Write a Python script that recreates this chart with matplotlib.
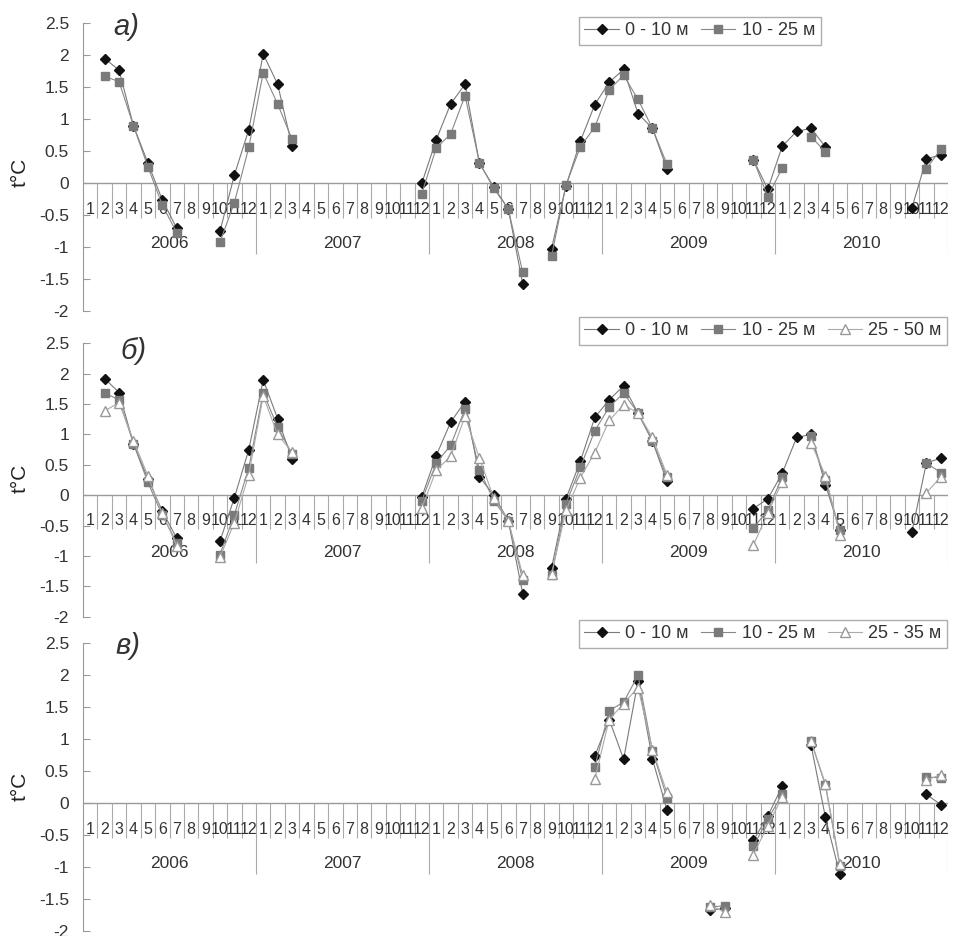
import numpy as np
import matplotlib.pyplot as plt

plt.rcParams['font.family'] = ['Liberation Sans', 'DejaVu Sans']

n = None
years = ['2006', '2007', '2008', '2009', '2010']
months = [str(m) for m in range(1, 13)] * 5
yticks = [-2, -1.5, -1, -0.5, 0, 0.5, 1, 1.5, 2, 2.5]
ylabels = ['-2', '-1.5', '-1', '-0.5', '0', '0.5', '1', '1.5', '2', '2.5']

# panel a
a_0_10 = [n, 1.94, 1.76, 0.89, 0.31, -0.27, -0.71, n, n, -0.76, 0.12, 0.83,
          2.01, 1.54, 0.57, n, n, n, n, n, n, n, n, -0.01,
          0.67, 1.23, 1.54, 0.30, -0.07, -0.41, -1.58, n, -1.03, -0.05, 0.65, 1.22,
          1.57, 1.77, 1.08, 0.85, 0.22, n, n, n, n, n, 0.36, -0.10,
          0.57, 0.80, 0.85, 0.56, n, n, n, n, n, -0.39, 0.37, 0.44]
a_10_25 = [n, 1.66, 1.58, 0.89, 0.25, -0.35, -0.78, n, n, -0.93, -0.31, 0.55,
           1.72, 1.23, 0.68, n, n, n, n, n, n, n, n, -0.17,
           0.54, 0.76, 1.36, 0.31, -0.09, -0.41, -1.40, n, -1.15, -0.04, 0.56, 0.87,
           1.45, 1.68, 1.30, 0.85, 0.29, n, n, n, n, n, 0.36, -0.22,
           0.23, n, 0.72, 0.48, n, n, n, n, n, n, 0.22, 0.52]

# panel b
b_0_10 = [n, 1.92, 1.69, 0.85, 0.27, -0.26, -0.71, n, n, -0.76, -0.04, 0.75,
          1.90, 1.26, 0.60, n, n, n, n, n, n, n, n, -0.03,
          0.65, 1.20, 1.54, 0.30, 0.00, -0.42, -1.62, n, -1.20, -0.06, 0.56, 1.28,
          1.57, 1.80, 1.35, 0.89, 0.23, n, n, n, n, n, -0.22, -0.06,
          0.36, 0.95, 1.00, 0.17, -0.58, n, n, n, n, -0.60, 0.53, 0.61]
b_10_25 = [n, 1.68, 1.57, 0.85, 0.21, -0.33, -0.78, n, n, -0.98, -0.32, 0.45,
           1.69, 1.12, 0.68, n, n, n, n, n, n, n, n, -0.09,
           0.53, 0.82, 1.42, 0.41, -0.09, -0.42, -1.39, n, -1.32, -0.14, 0.46, 1.06,
           1.45, 1.68, 1.35, 0.89, 0.30, n, n, n, n, n, -0.54, -0.25,
           0.30, n, 0.98, 0.25, -0.58, n, n, n, n, n, 0.53, 0.37]
b_25_50 = [n, 1.39, 1.52, 0.90, 0.32, -0.30, -0.83, n, n, -1.02, -0.45, 0.34,
           1.63, 1.00, 0.71, n, n, n, n, n, n, n, n, -0.21,
           0.41, 0.64, 1.30, 0.61, -0.05, -0.42, -1.31, n, -1.30, -0.25, 0.29, 0.70,
           1.23, 1.49, 1.35, 0.95, 0.34, n, n, n, n, n, -0.82, -0.30,
           0.22, n, 0.86, 0.32, -0.65, n, n, n, n, n, 0.04, 0.30]

# panel c
c_0_10 = [n] * 35 + [0.73,
          1.30, 0.68, 1.90, 0.68, -0.11, n, n, -1.68, -1.65, n, -0.59, -0.21,
          0.26, n, 0.90, -0.23, -1.12, n, n, n, n, n, 0.13, -0.03]
c_10_25 = [n] * 35 + [0.56,
           1.44, 1.57, 1.99, 0.81, 0.08, n, n, -1.63, -1.61, n, -0.68, -0.26,
           0.13, n, 0.96, 0.27, -0.99, n, n, n, n, n, 0.40, 0.39]
c_25_35 = [n] * 35 + [0.37,
           1.30, 1.55, 1.80, 0.83, 0.16, n, n, -1.60, -1.71, n, -0.81, -0.36,
           0.09, n, 0.97, 0.29, -0.96, n, n, n, n, n, 0.35, 0.44]

styles = [dict(marker='D', color='#7a7a7a', mfc='#111111', mec='#111111', ms=5, lw=0.8),
          dict(marker='s', color='#888888', mfc='#7a7a7a', mec='#7a7a7a', ms=6, lw=0.8),
          dict(marker='^', color='#aaaaaa', mfc='white', mec='#999999', ms=7, lw=0.8)]

W, H = 956, 936
fig = plt.figure(figsize=(W / 100, H / 100), dpi=100)

panels = [
    (22.7, 310.7, 'а)', (126, 27), [a_0_10, a_10_25], ['0 - 10 м', '10 - 25 м'], (579, 17), 172),
    (343.3, 616.7, 'б)', (134, 351), [b_0_10, b_10_25, b_25_50],
     ['0 - 10 м', '10 - 25 м', '25 - 50 м'], (579, 317), 478),
    (642.7, 930.7, 'в)', (128, 646), [c_0_10, c_10_25, c_25_35],
     ['0 - 10 м', '10 - 25 м', '25 - 35 м'], (579, 620), 786),
]

x = np.arange(60)
for top, bot, letter, lpos, series, names, legpos, ylab_y in panels:
    ax = fig.add_axes([83 / W, 1 - bot / H, 865 / W, (bot - top) / H])
    ax.set_xlim(-0.5, 59.5)
    ax.set_ylim(-2, 2.5)
    for s in ['top', 'right', 'bottom']:
        ax.spines[s].set_visible(False)
    ax.spines['left'].set_color('#999999')
    ax.set_xticks([])
    ax.set_yticks(yticks)
    ax.set_yticklabels(ylabels, fontsize=12.5, color='#333333')
    ax.tick_params(axis='y', direction='in', length=5, color='#999999', pad=10)

    ax.axhline(0, color='#999999', lw=1, zorder=1)
    bounds = [b - 0.5 for b in range(1, 60) if b % 12 != 0]
    ax.vlines(bounds, -0.55, 0, color='#aaaaaa', lw=0.8, zorder=1)
    ax.vlines([11.5, 23.5, 35.5, 47.5, 59.5], -1.12, 0, color='#aaaaaa', lw=0.8, zorder=1)
    for i in range(60):
        ax.text(x[i], -0.42, months[i], ha='center', va='center', fontsize=11.5,
                color='#333333', zorder=2)
    for k in range(5):
        ax.text(12 * k + 5.5, -0.95, years[k], ha='center', va='center', fontsize=12.5,
                color='#333333')

    for j, ser in enumerate(series):
        y = np.array([np.nan if v is None else v for v in ser], dtype=float)
        ax.plot(x, y, label=names[j], zorder=3 + j, **styles[j])

    leg = ax.legend(loc='upper left', bbox_to_anchor=(legpos[0] / W, 1 - legpos[1] / H),
                    bbox_transform=fig.transFigure, ncol=len(series), frameon=True,
                    fancybox=False, edgecolor='#999999', fontsize=13, handlelength=1.9,
                    columnspacing=0.7, handletextpad=0.35, borderpad=0.3,
                    borderaxespad=0)
    leg.get_frame().set_linewidth(1)
    for t in leg.get_texts():
        t.set_color('#333333')

    fig.text(lpos[0] / W, 1 - lpos[1] / H, letter, fontsize=21, style='italic',
             ha='center', va='center', color='#333333')
    fig.text(20 / W, 1 - ylab_y / H, 't°C', fontsize=15, rotation=90,
             ha='center', va='center', color='#222222')

fig.savefig('out.png', dpi=100)
